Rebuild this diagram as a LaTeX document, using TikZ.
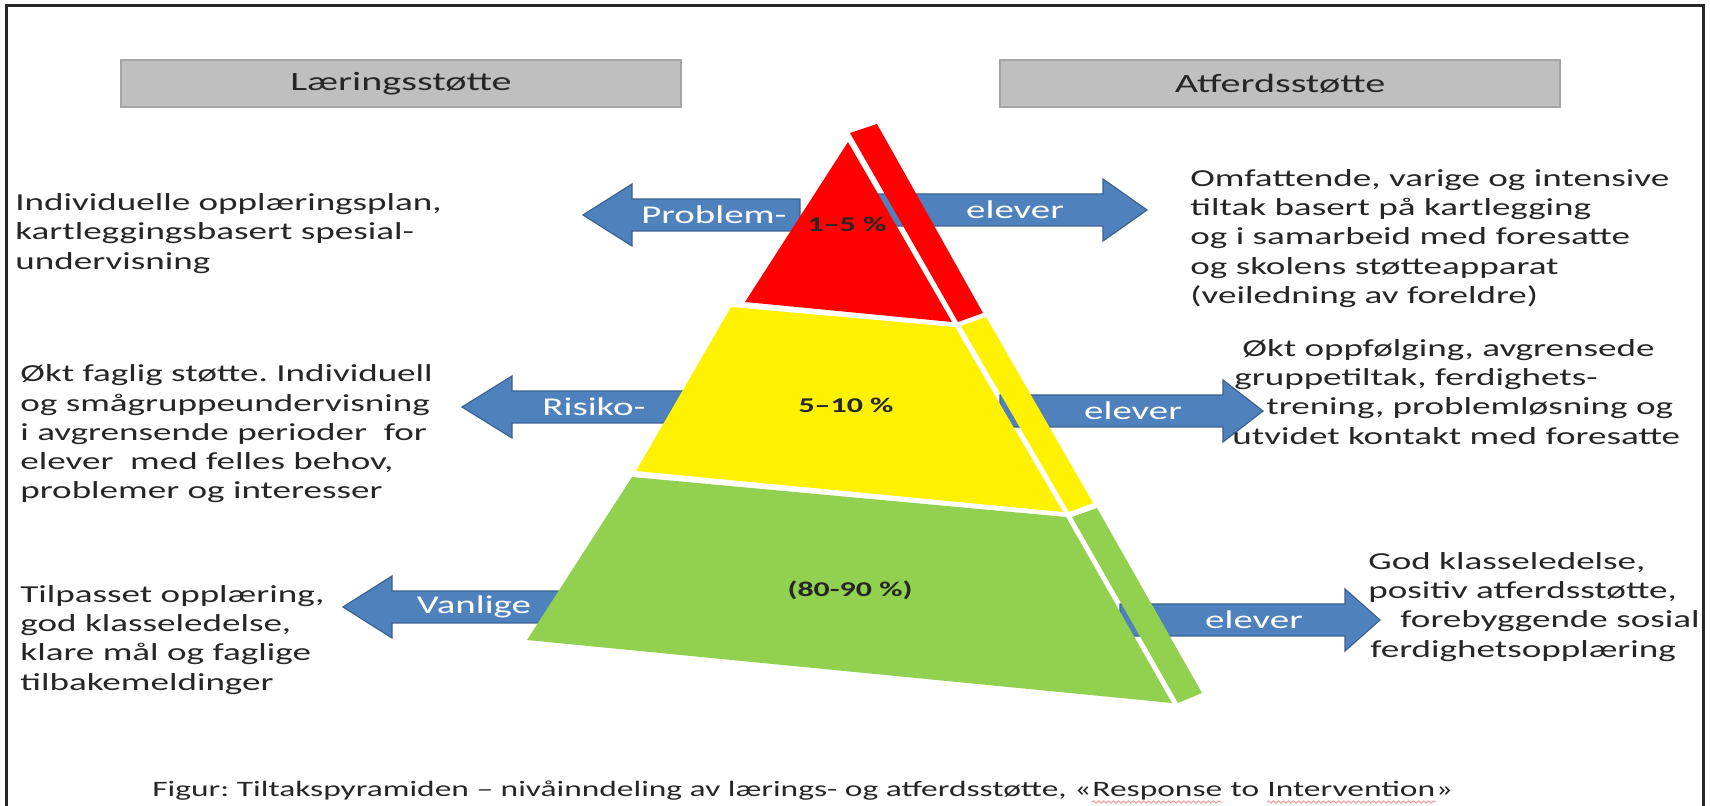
\documentclass[tikz,border=0pt]{standalone}
\usepackage{fontspec}
\setmainfont{Carlito}[FakeStretch=1.52]
\usetikzlibrary{decorations.pathmorphing}
\frenchspacing
\definecolor{arrowblue}{RGB}{79,129,189}
\definecolor{arrowedge}{RGB}{60,98,145}
\definecolor{headgray}{RGB}{191,191,191}
\definecolor{headedge}{RGB}{165,165,165}
\definecolor{tiergreen}{RGB}{146,208,80}
% block arrow: (tip x, centre y, head base x, tail x)
\def\blockarrow(#1,#2,#3,#4){\draw[blockarrow] (#1,#2) -- (#3,#2-31) -- (#3,#2-16) -- (#4,#2-16) -- (#4,#2+16) -- (#3,#2+16) -- (#3,#2+31) -- cycle;}

\begin{document}
\begin{tikzpicture}[x=0.5pt,y=-0.5pt,
	bodytext/.style={inner sep=0pt, align=left, text=black!85, font=\fontsize{12.2pt}{14.6pt}\selectfont},
	headbox/.style={fill=headgray, draw=headedge, line width=1pt, minimum width=280pt, minimum height=23.5pt, text=black!85, font=\fontsize{13.2pt}{15pt}\selectfont},
	blockarrow/.style={fill=arrowblue, draw=arrowedge, line width=0.6pt},
	arrowlabel/.style={inner sep=0pt, text=white, font=\fontsize{12.8pt}{15pt}\selectfont},
	share/.style={inner sep=0pt, text=black!85, font=\bfseries\fontsize{10.5pt}{12pt}\selectfont},
	captext/.style={inner sep=0pt, anchor=base west, text=black!85, font=\fontsize{11pt}{13pt}\selectfont},
	spellmark/.style={red!50, line width=0.4pt, decorate, decoration={snake, amplitude=0.6pt, segment length=2.5pt}}]
		%%%%% START %%%%%
		\useasboundingbox (0,0) rectangle (1710,806);
		\fill[white] (0,0) rectangle (1710,806);
		\draw[line width=1.5pt, black!85] (6,6) rectangle (1703,820);
		
		\node[headbox] (laering) at (401,83.5) {Læringsstøtte};
		\node[headbox] (atferd) at (1280,83.5) {Atferdsstøtte};
		
		% arrows (behind the pyramid)
		\blockarrow(583,215,632,800)
		\blockarrow(1147,210,1103,870)
		\blockarrow(462,407,512,700)
		\blockarrow(1263,411,1223,1000)
		\blockarrow(343,607,392,600)
		\blockarrow(1380,620,1345,1120)
		
		% pyramid, front
		\fill[red] (848,142) -- (952,322) -- (745,302) -- cycle;
		\fill[yellow] (731,307) -- (955,327) -- (1063,512) -- (636,471) -- cycle;
		\fill[tiergreen] (632,477) -- (1066,517) -- (1172,703) -- (527,640) -- cycle;
		% pyramid, side
		\fill[red] (850,133) -- (877,124) -- (983,313) -- (958,322) -- cycle;
		\fill[yellow] (961,326) -- (986,317) -- (1093,503) -- (1069,512) -- cycle;
		\fill[tiergreen] (1072,517) -- (1097,508) -- (1202,693) -- (1178,703) -- cycle;
		
		\node[share] (topshare) at (847,224) {1–5 \%};
		\node[share] (midshare) at (846,405) {5–10 \%};
		\node[share] (baseshare) at (850,590) {(80-90 \%)};
		
		\node[arrowlabel] (problem) at (714,215) {Problem-};
		\node[arrowlabel] (elevtop) at (1015,210) {elever};
		\node[arrowlabel] (risiko) at (594,407) {Risiko-};
		\node[arrowlabel] (elevmid) at (1133,411) {elever};
		\node[arrowlabel] (vanlige) at (474,607) {Vanlige};
		\node[arrowlabel] (elevbase) at (1254,620) {elever};
		
		% left column
		\node[bodytext, anchor=west] (plan) at (15,233.5) {Individuelle opplæringsplan,\\kartleggingsbasert spesial-\\undervisning};
		\node[bodytext, anchor=west] (faglig) at (20,434) {Økt faglig støtte. Individuell\\og smågruppeundervisning\\i avgrensende perioder\ \ for\\elever\ \ med felles behov,\\problemer og interesser};
		\node[bodytext, anchor=west] (tilpasset) at (20,640) {Tilpasset opplæring,\\god klasseledelse,\\klare mål og faglige\\tilbakemeldinger};
		
		% right column
		\node[bodytext, anchor=west] (omfattende) at (1190,238.5) {Omfattende, varige og intensive\\tiltak basert på kartlegging\\og i samarbeid med foresatte\\og skolens støtteapparat\\(veiledning av foreldre)};
		\node[bodytext, anchor=west] (oppfolging) at (1232,392) {\hspace*{5pt}Økt oppfølging, avgrensede\\\hspace*{1pt}gruppetiltak, ferdighets-\\\hspace*{17pt}trening, problemløsning og\\utvidet kontakt med foresatte};
		\node[bodytext, anchor=west] (klasse) at (1368,607) {God klasseledelse,\\positiv atferdsstøtte,\\\hspace*{16pt}forebyggende sosial\\\hspace*{1pt}ferdighetsopplæring};
		
		% caption
		\node[captext] (figcap) at (152,797) {Figur: Tiltakspyramiden – nivåinndeling av lærings- og atferdsstøtte, «};
		\node[captext] (respons) at (figcap.base east) {Response};
		\node[captext] (capto) at (respons.base east) {\ to\ \ };
		\node[captext] (interv) at (capto.base east) {Intervention};
		\node[captext] (capend) at (interv.base east) {»};
		\draw[spellmark] ([yshift=-2.5pt]respons.base west) -- ([yshift=-2.5pt]respons.base east);
		\draw[spellmark] ([yshift=-2.5pt]interv.base west) -- ([yshift=-2.5pt]interv.base east);
		%%%%% END %%%%%
\end{tikzpicture}
\end{document}
